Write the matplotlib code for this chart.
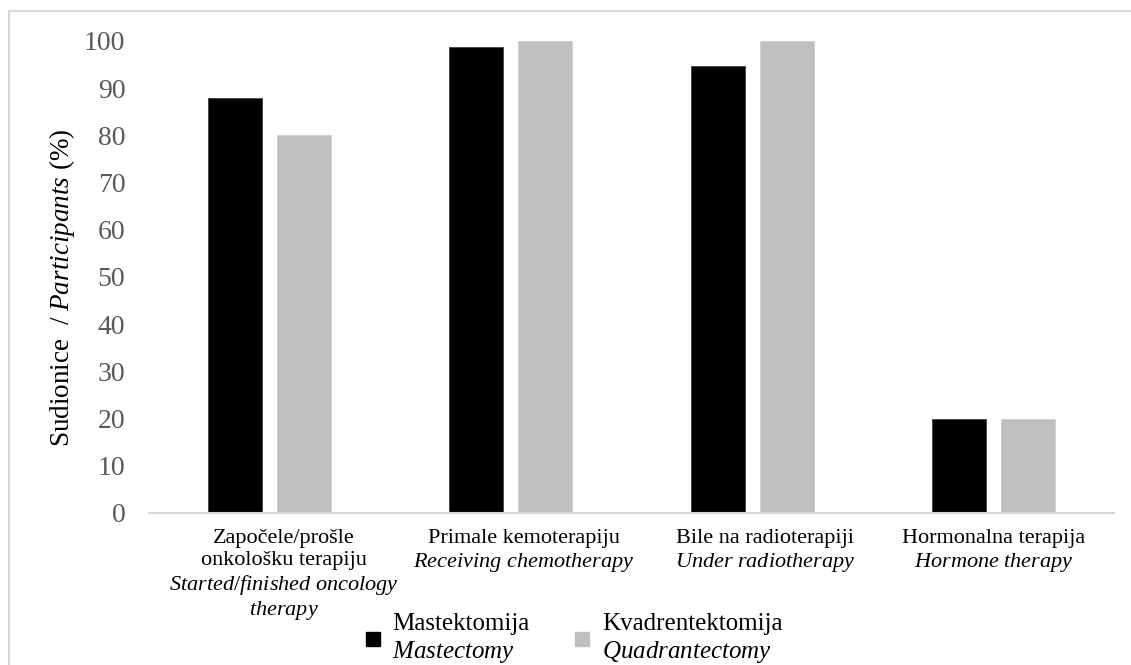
import matplotlib

matplotlib.use("Agg")
import matplotlib.pyplot as plt
import numpy as np
from matplotlib.lines import Line2D
from matplotlib.patches import Rectangle

plt.rcParams["font.family"] = ["Liberation Serif", "DejaVu Serif"]
plt.rcParams["mathtext.fontset"] = "custom"
plt.rcParams["mathtext.rm"] = "Liberation Serif"
plt.rcParams["mathtext.it"] = "Liberation Serif:italic"

# data
categories_hr = ["Započele/prošle\nonkološku terapiju", "Primale kemoterapiju",
                 "Bile na radioterapiji", "Hormonalna terapija"]
categories_en = [["Started/finished oncology", "therapy"], ["Receiving chemotherapy"],
                 ["Under radiotherapy"], ["Hormone therapy"]]
mastektomija = [88.0, 98.8, 94.7, 20.0]
kvadrentektomija = [80.0, 100.0, 100.0, 20.0]
series_labels = [("Mastektomija", "Mastectomy"), ("Kvadrentektomija", "Quadrantectomy")]
yticks = [0, 10, 20, 30, 40, 50, 60, 70, 80, 90, 100]

W, H = 1131, 665
fig = plt.figure(figsize=(W / 100, H / 100), dpi=100)
ax = fig.add_axes([149 / W, 1 - 513 / H, (1114 - 149) / W, (513 - 41) / H])

x = np.arange(len(categories_hr))
width = 0.224
ax.bar(x - 0.143, mastektomija, width, color="#000000", edgecolor="#404040", linewidth=0.6)
ax.bar(x + 0.143, kvadrentektomija, width, color="#bfbfbf", edgecolor="#cfcfcf", linewidth=0.6)

ax.set_xlim(-0.5, len(categories_hr) - 0.5)
ax.set_ylim(0, 100)
ax.set_yticks(yticks)
ax.tick_params(axis="y", length=0, pad=17, labelsize=20, labelcolor="#595959")
ax.set_xticks([])
for side in ["top", "right", "left"]:
    ax.spines[side].set_visible(False)
ax.spines["bottom"].set_color("#d9d9d9")
ax.spines["bottom"].set_linewidth(1.5)


def it(s):
    return "$\\mathit{" + s.replace(" ", "\\ ") + "}$"


# category labels, regular + italic lines
shifts = [14, 13, 13, 0]
for i, (hr, en) in enumerate(zip(categories_hr, categories_en)):
    label = hr + "\n" + "\n".join(it(s) for s in en)
    ax.annotate(label, xy=(i, 0), xycoords=("data", "axes fraction"),
                xytext=(shifts[i], -16), textcoords="offset pixels",
                ha="center", va="top", fontsize=16, color="black", linespacing=1.18)

fig.text(62 / W, 1 - 288 / H, "Sudionice  / " + it("Participants") + " (%)",
         rotation=90, ha="center", va="center", fontsize=19.5, color="black")

handles = [Line2D([], [], ls="none", marker="s", markersize=10, color="#000000"),
           Line2D([], [], ls="none", marker="s", markersize=10, color="#bfbfbf")]
labels = [a + "\n" + it(b) for a, b in series_labels]
fig.legend(handles, labels, loc="upper left", bbox_to_anchor=(365 / W, 1 - 613 / H),
           ncol=2, frameon=False, fontsize=18, handlelength=0.6, handletextpad=0.5,
           columnspacing=1.8, borderpad=0, borderaxespad=0)

# outer border (top and left edges visible)
fig.add_artist(Rectangle((9 / W, -0.05), 1.2, 1.05 - 11 / H, transform=fig.transFigure,
                         fill=False, edgecolor="#d9d9d9", linewidth=1.5, clip_on=False))

fig.savefig("out.png", dpi=100)
